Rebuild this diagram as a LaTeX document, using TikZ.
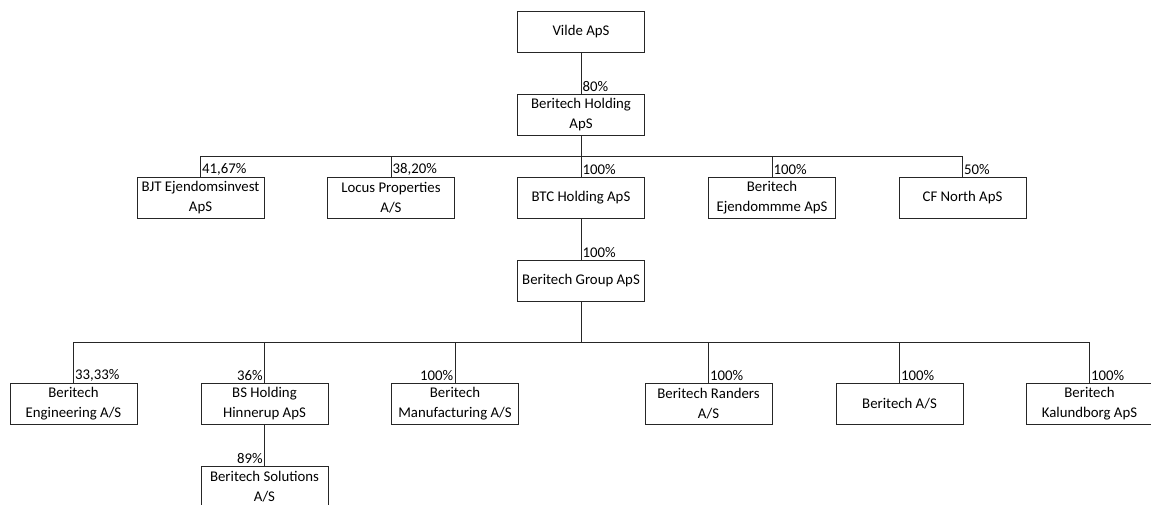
\documentclass[tikz,border=0pt]{standalone}
\usepackage{fontspec}
\setmainfont{Carlito}
\begin{document}
\begin{tikzpicture}[x=1pt,y=-1pt,
  box/.style={draw=black!85,line width=0.8pt,minimum width=127pt,minimum height=41pt,inner sep=0pt,align=center,font=\fontsize{14.8}{20.5}\selectfont},
  pct/.style={inner sep=1.5pt,font=\fontsize{14.8}{16}\selectfont},
  con/.style={draw=black!85,line width=0.8pt}]
\useasboundingbox (0,0) rectangle (1151,505);
\fill[white] (0,0) rectangle (1151,505);
\node[box] (vilde) at (581,31.5) {Vilde ApS};
\node[box] (holding) at (581,114.5) {Beritech Holding\\ApS};
\node[box] (bjt) at (200.5,197.5) {BJT Ejendomsinvest\\ApS};
\node[box] (locus) at (391,197.5) {Locus Properties\\A/S};
\node[box] (btc) at (581,197.5) {BTC Holding ApS};
\node[box] (ejd) at (772,197.5) {Beritech\\Ejendommme ApS};
\node[box] (cf) at (962.5,197.5) {CF North ApS};
\node[box] (group) at (581,280.5) {Beritech Group ApS};
\node[box] (eng) at (73.5,403.5) {Beritech\\Engineering A/S};
\node[box] (bsh) at (264.5,403.5) {BS Holding\\Hinnerup ApS};
\node[box] (sol) at (264.5,486.5) {Beritech Solutions\\A/S};
\node[box] (man) at (455,403.5) {Beritech\\Manufacturing A/S};
\node[box] (ran) at (708.5,403.5) {Beritech Randers\\A/S};
\node[box] (bas) at (899.5,403.5) {Beritech A/S};
\node[box] (kal) at (1089.5,403.5) {Beritech\\Kalundborg ApS};
\coordinate (bus1) at (581,156);
\coordinate (bus2) at (581,342);
\draw[con] (vilde) -- (holding);
\draw[con] (holding) -- (bus1);
\foreach \n in {bjt,locus,btc,ejd,cf} \draw[con] (\n.north) |- (bus1);
\draw[con] (btc) -- (group);
\draw[con] (group) -- (bus2);
\foreach \n in {eng,bsh,man,ran,bas,kal} \draw[con] (\n.north) |- (bus2);
\draw[con] (bsh) -- (sol);
\node[pct,anchor=south west] (p1) at (holding.north) {80\%};
\node[pct,anchor=south west] (p2) at (bjt.north) {41,67\%};
\node[pct,anchor=south west] (p3) at (locus.north) {38,20\%};
\node[pct,anchor=south west] (p4) at (btc.north) {100\%};
\node[pct,anchor=south west] (p5) at (ejd.north) {100\%};
\node[pct,anchor=south west] (p6) at (cf.north) {50\%};
\node[pct,anchor=south west] (p7) at (group.north) {100\%};
\node[pct,anchor=south west] (p8) at (eng.north) {33,33\%};
\node[pct,anchor=south east] (p9) at (bsh.north) {36\%};
\node[pct,anchor=south east] (p10) at (sol.north) {89\%};
\node[pct,anchor=south east] (p11) at (man.north) {100\%};
\node[pct,anchor=south west] (p12) at (ran.north) {100\%};
\node[pct,anchor=south west] (p13) at (bas.north) {100\%};
\node[pct,anchor=south west] (p14) at (kal.north) {100\%};
\end{tikzpicture}
\end{document}
